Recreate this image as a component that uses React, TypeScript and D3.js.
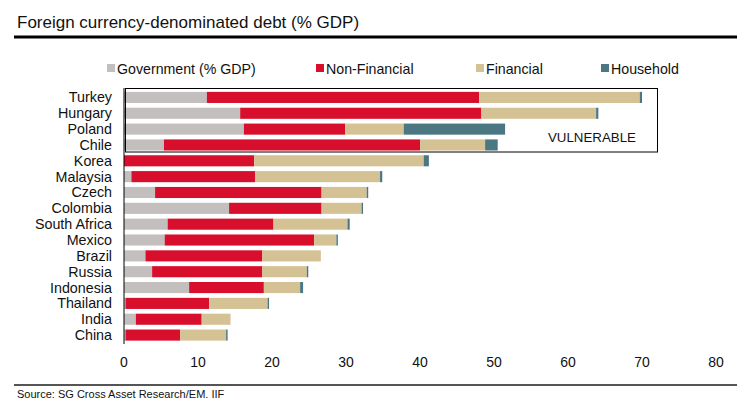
import React from "react";
import * as d3 from "d3";

const countries = ["Turkey","Hungary","Poland","Chile","Korea","Malaysia","Czech","Colombia","South Africa","Mexico","Brazil","Russia","Indonesia","Thailand","India","China"];
const government = [11.2,15.7,16.2,5.4,0,1.0,4.2,14.2,5.9,5.5,2.9,3.8,8.8,0.2,1.6,0.2];
const nonFinancial = [36.8,32.6,13.7,34.6,17.6,16.7,22.5,12.5,14.3,20.2,15.8,14.9,10.1,11.3,8.9,7.4];
const financial = [21.7,15.5,7.9,8.8,22.9,16.9,6.1,5.4,10.0,3.0,7.9,6.0,4.9,7.9,3.9,6.2];
const household = [0.3,0.3,13.7,1.7,0.7,0.3,0.2,0.2,0.3,0.2,0.0,0.2,0.4,0.2,0.0,0.1];
const seriesNames = ["Government (% GDP)","Non-Financial","Financial","Household"];
const seriesColors = ["#c3bfbf","#d70f2d","#d5c294","#4a7782"];
const xTicks = [0,10,20,30,40,50,60,70,80];

export default function App() {
  const W = 751, H = 413;
  const x = d3.scaleLinear().domain([0, 80]).range([124, 716]);
  const y = d3.scaleBand().domain(countries).range([89.5, 343]).paddingInner(0.3).paddingOuter(0.15);
  const rows = countries.map((c, i) => ({ c, vals: [government[i], nonFinancial[i], financial[i], household[i]] }));
  const legendX = [107, 316, 476, 601];
  const font = "Arial, 'Liberation Sans', sans-serif";
  return (
    <svg width={W} height={H} style={{ position: "absolute", left: 0, top: 0, fontFamily: font }}>
      <rect width={W} height={H} fill="#fff" />
      <text x={17} y={28} fontSize={17} fill="#111">Foreign currency-denominated debt (% GDP)</text>
      <line x1={14} x2={737} y1={37} y2={37} stroke="#000" strokeWidth={3} />
      {seriesNames.map((s, i) => (
        <g key={s}>
          <rect x={legendX[i]} y={64} width={8} height={8} fill={seriesColors[i]} />
          <text x={legendX[i] + 10} y={73.5} fontSize={14.2} fill="#111">{s}</text>
        </g>
      ))}
      {rows.map((r) => {
        let acc = 0;
        return (
          <g key={r.c}>
            <text x={112} y={(y(r.c) as number) + y.bandwidth() / 2 + 5} fontSize={14.3} textAnchor="end" fill="#111">{r.c}</text>
            {r.vals.map((v, j) => {
              const x0 = x(acc);
              acc += v;
              const w = x(acc) - x0;
              if (v <= 0) return null;
              return <rect key={j} x={x0} y={y(r.c)} width={Math.max(w, 1.5)} height={y.bandwidth()} fill={seriesColors[j]} />;
            })}
          </g>
        );
      })}
      <line x1={124} x2={124} y1={88} y2={344} stroke="#000" strokeWidth={1} />
      <rect x={125.5} y={88.5} width={532} height={63.5} fill="none" stroke="#000" strokeWidth={1} />
      <text x={548} y={142} fontSize={13.3} fill="#111">VULNERABLE</text>
      {xTicks.map((t) => (
        <text key={t} x={x(t)} y={367} fontSize={14} textAnchor="middle" fill="#111">{t}</text>
      ))}
      <line x1={14} x2={737} y1={385} y2={385} stroke="#555" strokeWidth={2} />
      <text x={17} y={398} fontSize={11} fill="#111">Source: SG Cross Asset Research/EM. IIF</text>
    </svg>
  );
}
